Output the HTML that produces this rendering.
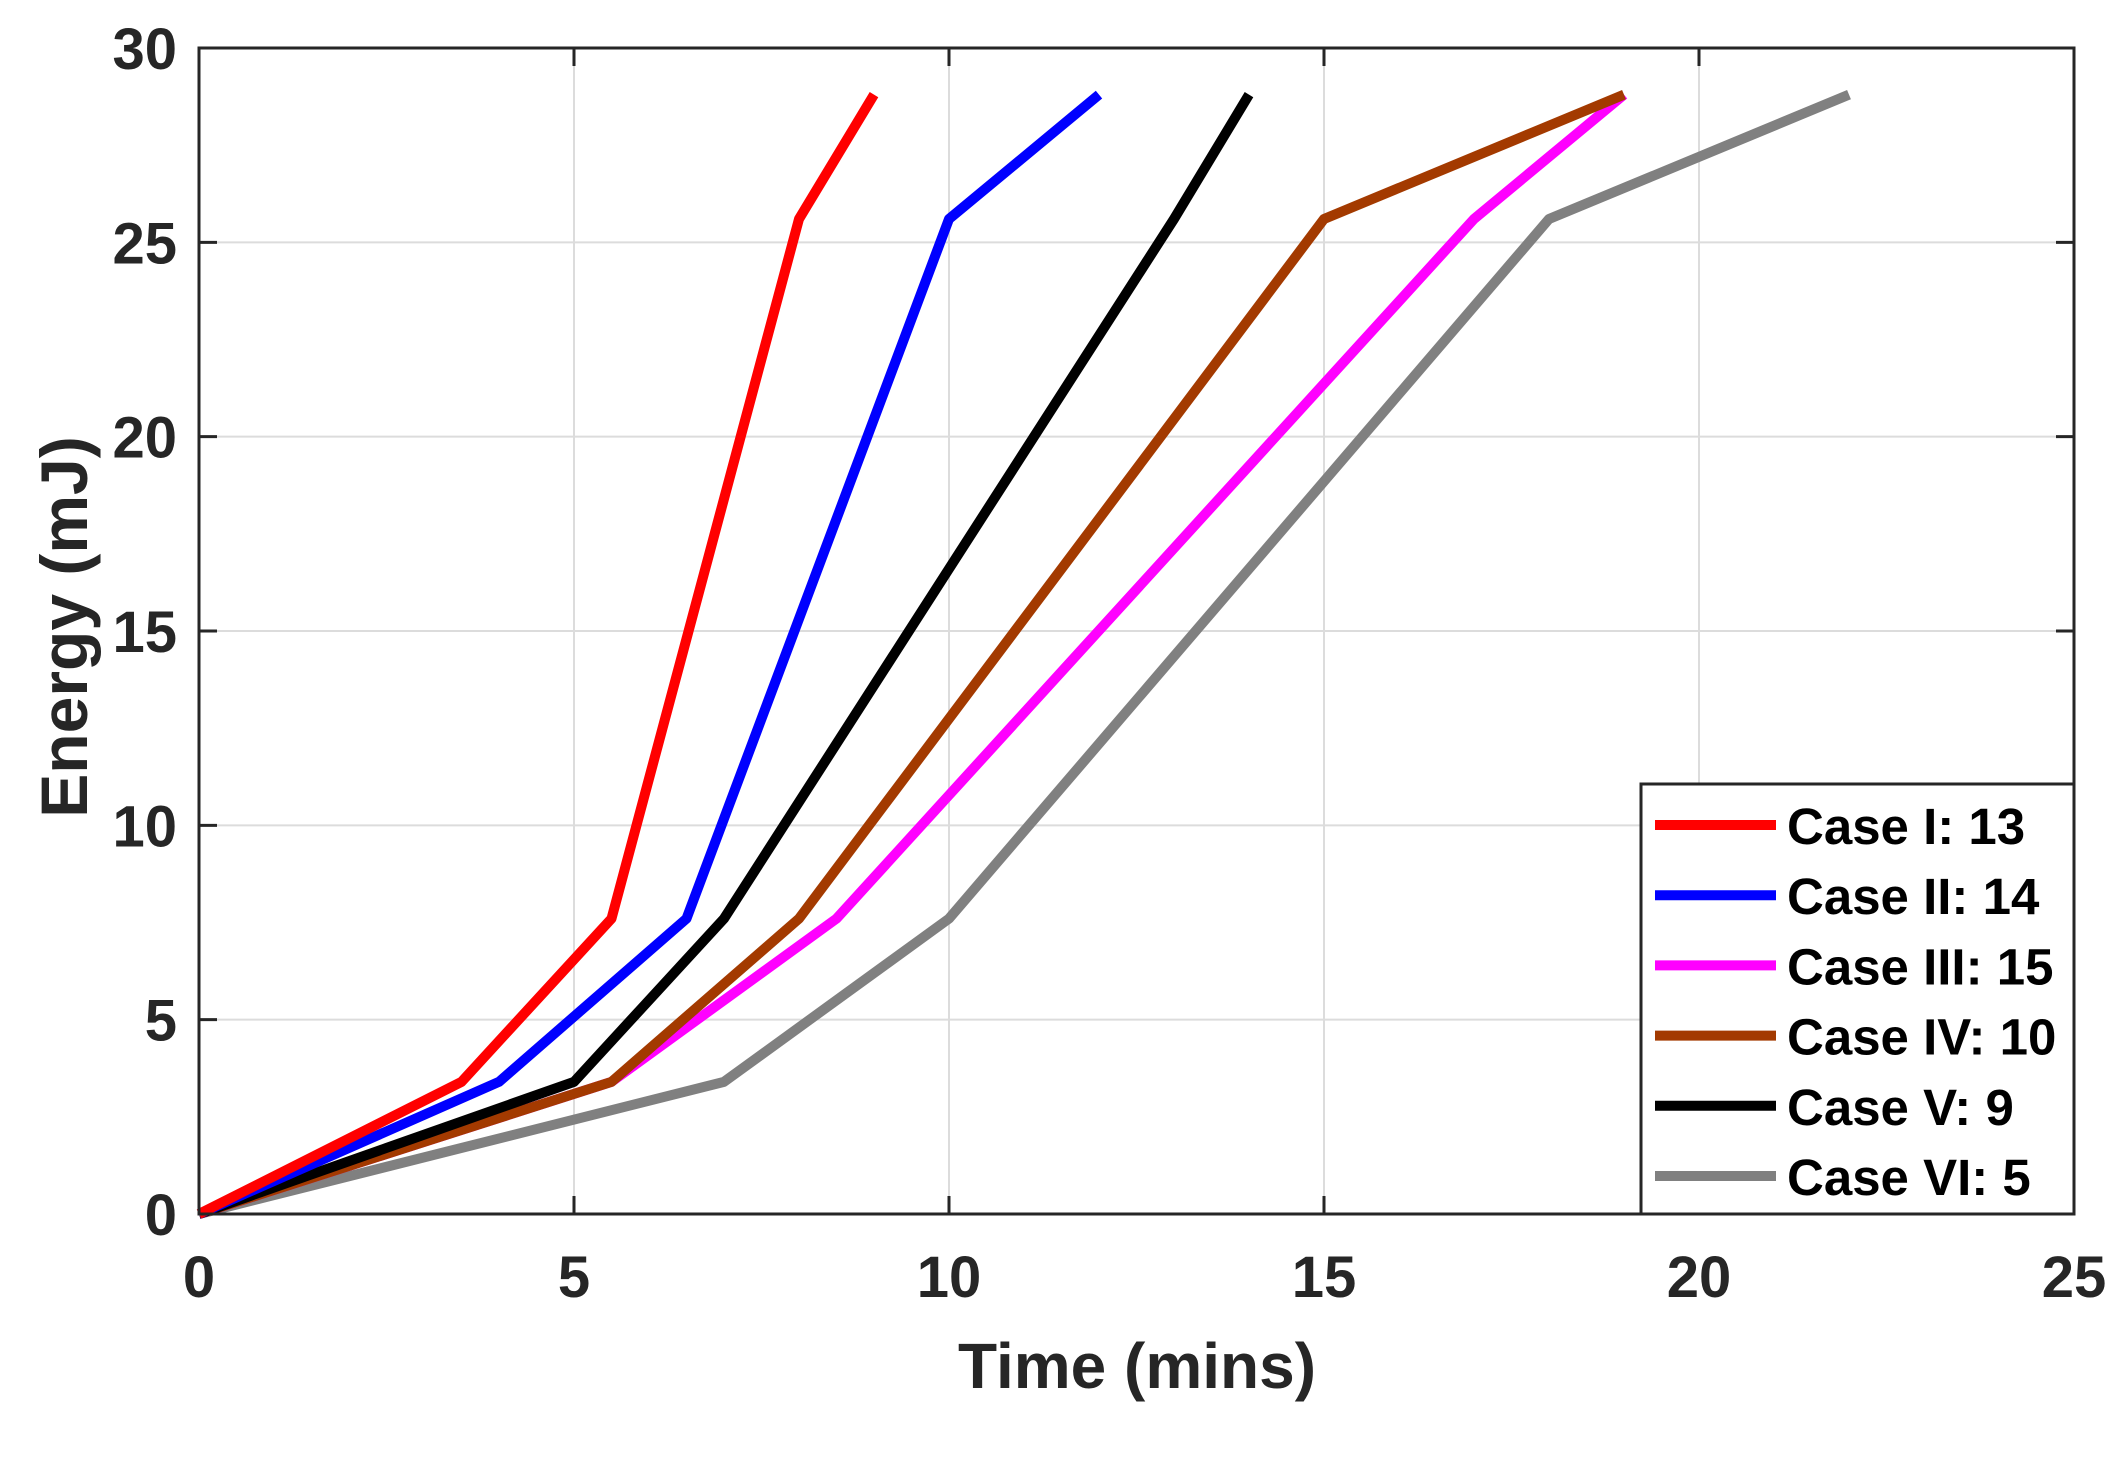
<!DOCTYPE html>
<html><head><meta charset="utf-8"><style>
html,body{margin:0;padding:0;background:#fff;}
svg{display:block;font-family:"Liberation Sans",Arial,sans-serif;font-weight:bold;}
</style></head><body>
<svg id="chart" width="2128" height="1457" viewBox="0 0 2128 1457" xmlns="http://www.w3.org/2000/svg">
<rect width="2128" height="1457" fill="#fff"/>
<g id="grid"></g>
<g id="series"></g>
<rect x="199" y="48" width="1875" height="1166" fill="none" stroke="#262626" stroke-width="3"/>
<g id="ticks"></g>
<text x="1137" y="1388" font-size="64" text-anchor="middle" fill="#262626">Time (mins)</text>
<text transform="translate(87,627) rotate(-90)" font-size="66" text-anchor="middle" fill="#262626">Energy (mJ)</text>
<g id="legend"></g>
</svg>
<script>
const xTicks = [0, 5, 10, 15, 20, 25];
const yTicks = [0, 5, 10, 15, 20, 25, 30];
const seriesNames = ["Case I: 13", "Case II: 14", "Case III: 15", "Case IV: 10", "Case V: 9", "Case VI: 5"];
const seriesColors = ["#ff0000", "#0000ff", "#ff00ff", "#a33a00", "#000000", "#808080"];
const caseIx = [0, 3.5, 5.5, 8, 9];
const caseIy = [0, 3.4, 7.6, 25.6, 28.8];
const caseIIx = [0, 4, 6.5, 10, 12];
const caseIIy = [0, 3.4, 7.6, 25.6, 28.8];
const caseIIIx = [0, 5.5, 8.5, 17, 19];
const caseIIIy = [0, 3.4, 7.6, 25.6, 28.8];
const caseIVx = [0, 5.5, 8, 15, 19];
const caseIVy = [0, 3.4, 7.6, 25.6, 28.8];
const caseVx = [0, 5, 7, 13, 14];
const caseVy = [0, 3.4, 7.6, 25.6, 28.8];
const caseVIx = [0, 7, 10, 18, 22];
const caseVIy = [0, 3.4, 7.6, 25.6, 28.8];

const NS = "http://www.w3.org/2000/svg";
const X0 = 199, X1 = 2074, Y0 = 1214, Y1 = 48;
function sx(v){ return X0 + (v - 0) / 25 * (X1 - X0); }
function sy(v){ return Y0 - (v - 0) / 30 * (Y0 - Y1); }

const grid = document.getElementById('grid');
const ticks = document.getElementById('ticks');
xTicks.forEach(t => {
  const g = document.createElementNS(NS, 'line');
  
  
  g.setAttribute('x1', sx(t)); g.setAttribute('x2', sx(t));
  g.setAttribute('y1', Y1); g.setAttribute('y2', Y0);
  g.setAttribute('stroke', '#dcdcdc'); g.setAttribute('stroke-width', '2');
  grid.appendChild(g);
  [[Y0, Y0 - 18], [Y1, Y1 + 18]].forEach(p => {
    const k = document.createElementNS(NS, 'line');
    
    
    k.setAttribute('x1', sx(t)); k.setAttribute('x2', sx(t));
    k.setAttribute('y1', p[0]); k.setAttribute('y2', p[1]);
    k.setAttribute('stroke', '#262626'); k.setAttribute('stroke-width', '3');
    ticks.appendChild(k);
  });
  const l = document.createElementNS(NS, 'text');
  
  
  l.setAttribute('x', sx(t)); l.setAttribute('y', 1297);
  l.setAttribute('font-size', '58'); l.setAttribute('text-anchor', 'middle');
  l.setAttribute('fill', '#262626');
  l.textContent = t;
  ticks.appendChild(l);
});
yTicks.forEach(t => {
  const g = document.createElementNS(NS, 'line');
  
  
  g.setAttribute('x1', X0); g.setAttribute('x2', X1);
  g.setAttribute('y1', sy(t)); g.setAttribute('y2', sy(t));
  g.setAttribute('stroke', '#dcdcdc'); g.setAttribute('stroke-width', '2');
  grid.appendChild(g);
  [[X0, X0 + 18], [X1, X1 - 18]].forEach(p => {
    const k = document.createElementNS(NS, 'line');
    
    
    k.setAttribute('x1', p[0]); k.setAttribute('x2', p[1]);
    k.setAttribute('y1', sy(t)); k.setAttribute('y2', sy(t));
    k.setAttribute('stroke', '#262626'); k.setAttribute('stroke-width', '3');
    ticks.appendChild(k);
  });
  const l = document.createElementNS(NS, 'text');
  
  
  l.setAttribute('x', 177); l.setAttribute('y', sy(t) + 21);
  l.setAttribute('font-size', '58'); l.setAttribute('text-anchor', 'end');
  l.setAttribute('fill', '#262626');
  l.textContent = t;
  ticks.appendChild(l);
});

const allX = [caseIx, caseIIx, caseIIIx, caseIVx, caseVx, caseVIx];
const allY = [caseIy, caseIIy, caseIIIy, caseIVy, caseVy, caseVIy];
const drawOrder = [5, 2, 3, 4, 1, 0];
const seriesG = document.getElementById('series');
drawOrder.forEach(i => {
  const p = document.createElementNS(NS, 'polyline');
  
  
  p.setAttribute('points', allX[i].map((x, j) => sx(x) + ',' + sy(allY[i][j])).join(' '));
  p.setAttribute('fill', 'none');
  p.setAttribute('stroke', seriesColors[i]);
  p.setAttribute('stroke-width', '10');
  p.setAttribute('stroke-linejoin', 'round');
  seriesG.appendChild(p);
});

const legend = document.getElementById('legend');
const box = document.createElementNS(NS, 'rect');


box.setAttribute('x', 1641); box.setAttribute('y', 784);
box.setAttribute('width', 433); box.setAttribute('height', 430);
box.setAttribute('fill', '#fff'); box.setAttribute('stroke', '#262626'); box.setAttribute('stroke-width', '3');
legend.appendChild(box);
seriesNames.forEach((n, i) => {
  const y = 825 + i * 70.2;
  const ln = document.createElementNS(NS, 'line');
  
  
  ln.setAttribute('x1', 1655); ln.setAttribute('x2', 1776);
  ln.setAttribute('y1', y); ln.setAttribute('y2', y);
  ln.setAttribute('stroke', seriesColors[i]); ln.setAttribute('stroke-width', '10');
  legend.appendChild(ln);
  const t = document.createElementNS(NS, 'text');
  
  
  t.setAttribute('x', 1787); t.setAttribute('y', y + 19);
  t.setAttribute('font-size', '51'); t.setAttribute('fill', '#000');
  t.textContent = n;
  legend.appendChild(t);
});
</script>
</body></html>
